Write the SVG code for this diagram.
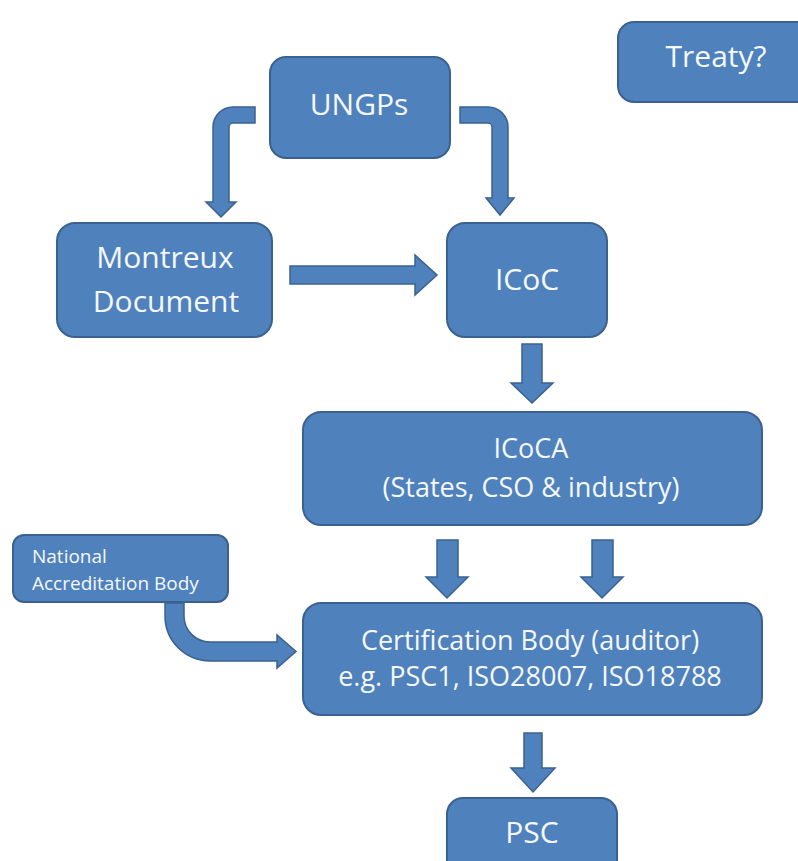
<svg xmlns="http://www.w3.org/2000/svg" width="798" height="861" viewBox="0 0 798 861">
<style>
.box{fill:#4f81bd;stroke:#3a6190;stroke-width:2}
.arr{fill:#4f81bd;stroke:#3a6190;stroke-width:1.5;stroke-linejoin:miter}
.t{font-family:"Open Sans","Liberation Sans",sans-serif;fill:#f5f8fc;text-anchor:middle}
.big{font-size:30px}
.mid{font-size:27px}
.sm{font-size:19px;text-anchor:start}
</style>
<rect width="798" height="861" fill="#ffffff"/>
<g id="connectors">
<path class="arr" d="M255,107 L233,107 A20,20 0 0 0 213,127 L213,202 L206,202 L221,217 L236,202 L229,202 L229,127 A4,4 0 0 1 233,123 L255,123 Z"/>
<path class="arr" d="M460,107 L488,107 A20,20 0 0 1 508,127 L508,198 L514,198 L500,215 L486,198 L492,198 L492,127 A4,4 0 0 0 488,123 L460,123 Z"/>
<path class="arr" d="M290,266 L415,266 L415,255 L437,275 L415,295 L415,284 L290,284 Z"/>
<path class="arr" d="M522,344 L542,344 L542,383 L553,383 L532,403 L511,383 L522,383 Z"/>
<path class="arr" d="M437,540 L458,540 L458,577 L468,577 L447,598 L426,577 L437,577 Z"/>
<path class="arr" d="M592,540 L613,540 L613,577 L623,577 L602,598 L581,577 L592,577 Z"/>
<path class="arr" d="M165,603 L165,616 A45,45 0 0 0 210,661 L277,661 L277,668 L296,651.5 L277,635 L277,642 L210,642 A26,26 0 0 1 184,616 L184,603 Z"/>
<path class="arr" d="M524,733 L542,733 L542,768 L555,768 L533,792 L511,768 L524,768 Z"/>
</g>
<g id="ungps">
<rect class="box" x="270" y="57" width="180" height="101" rx="16"/>
<text class="t big" x="359" y="115">UNGPs</text>
</g>
<g id="treaty">
<rect class="box" x="618" y="22" width="200" height="80" rx="16"/>
<text class="t big" x="716" y="67">Treaty?</text>
</g>
<g id="montreux">
<rect class="box" x="57" y="223" width="215" height="114" rx="18"/>
<text class="t big" x="165" y="268">Montreux</text>
<text class="t big" x="166" y="312">Document</text>
</g>
<g id="icoc">
<rect class="box" x="447" y="223" width="160" height="114" rx="18"/>
<text class="t big" x="527" y="290">ICoC</text>
</g>
<g id="icoca">
<rect class="box" x="303" y="412" width="459" height="113" rx="18"/>
<text class="t mid" x="531" y="458">ICoCA</text>
<text class="t mid" x="531" y="497">(States, CSO &amp; industry)</text>
</g>
<g id="nab">
<rect class="box" x="13" y="535" width="215" height="67" rx="11"/>
<text class="t sm" x="32" y="563">National</text>
<text class="t sm" x="32" y="590">Accreditation Body</text>
</g>
<g id="cert">
<rect class="box" x="303" y="603" width="459" height="112" rx="18"/>
<text class="t mid" x="530" y="650">Certification Body (auditor)</text>
<text class="t mid" x="530" y="686">e.g. PSC1, ISO28007, ISO18788</text>
</g>
<g id="psc">
<rect class="box" x="447" y="798" width="170" height="90" rx="16"/>
<text class="t big" x="532" y="843">PSC</text>
</g>
</svg>
